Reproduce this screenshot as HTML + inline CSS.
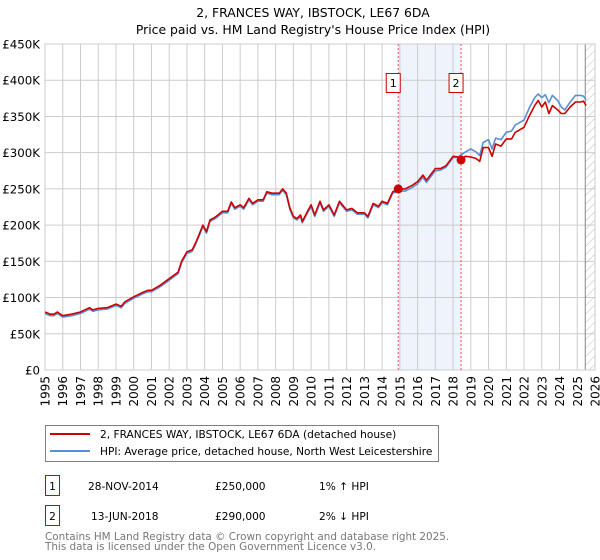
<!DOCTYPE html>
<html><head><meta charset="utf-8"><style>
body{margin:0;background:#fff;font-family:"DejaVu Sans","Liberation Sans",sans-serif;}
#wrap{position:relative;width:600px;height:560px;overflow:hidden;}
svg text{font-family:"DejaVu Sans","Liberation Sans",sans-serif;}
</style></head><body>
<div id="wrap">
<svg id="chart" width="600" height="560">
<text x="313" y="17" text-anchor="middle" font-size="12.4">2, FRANCES WAY, IBSTOCK, LE67 6DA</text>
<text x="313" y="34" text-anchor="middle" font-size="12.4">Price paid vs. HM Land Registry's House Price Index (HPI)</text>
<g id="plot"></g>
<g>
<rect x="45.5" y="425.5" width="393" height="36" fill="#fff" stroke="#808080"/>
<line x1="50" y1="434" x2="90" y2="434" stroke="#cc0000" stroke-width="2"/>
<text x="100" y="438" font-size="10.6">2, FRANCES WAY, IBSTOCK, LE67 6DA (detached house)</text>
<line x1="50" y1="451" x2="90" y2="451" stroke="#5b8fd4" stroke-width="2"/>
<text x="100" y="455" font-size="10.6">HPI: Average price, detached house, North West Leicestershire</text>
</g>
<g>
<rect x="45.5" y="475.5" width="14" height="20" fill="#fff" stroke="#cc0000"/>
<text x="52.5" y="490" text-anchor="middle" font-size="10.6">1</text>
<text x="88" y="490" font-size="10.6">28-NOV-2014</text>
<text x="215" y="490" font-size="10.6">£250,000</text>
<text x="319" y="490" font-size="10.6">1% ↑ HPI</text>
</g>
<g>
<rect x="45.5" y="505.5" width="14" height="20" fill="#fff" stroke="#cc0000"/>
<text x="52.5" y="520" text-anchor="middle" font-size="10.6">2</text>
<text x="91" y="520" font-size="10.6">13-JUN-2018</text>
<text x="215" y="520" font-size="10.6">£290,000</text>
<text x="319" y="520" font-size="10.6">2% ↓ HPI</text>
</g>
<text x="45" y="540" font-size="10.4" fill="#777">Contains HM Land Registry data © Crown copyright and database right 2025.</text>
<text x="45" y="550" font-size="10.4" fill="#777">This data is licensed under the Open Government Licence v3.0.</text>
</svg>
</div>
<script>
const dates=[1995.0,1995.3,1995.5,1995.7,1996.0,1996.5,1997.0,1997.5,1997.7,1998.0,1998.5,1999.0,1999.3,1999.5,2000.0,2000.5,2000.8,2001.0,2001.5,2002.0,2002.5,2002.7,2003.0,2003.3,2003.5,2003.7,2003.9,2004.1,2004.3,2004.6,2005.0,2005.3,2005.5,2005.7,2006.0,2006.2,2006.5,2006.7,2007.0,2007.3,2007.5,2007.8,2008.0,2008.2,2008.4,2008.6,2008.8,2009.0,2009.2,2009.4,2009.5,2009.8,2010.0,2010.2,2010.5,2010.7,2011.0,2011.3,2011.6,2012.0,2012.3,2012.6,2013.0,2013.2,2013.5,2013.8,2014.0,2014.3,2014.6,2014.9,2015.3,2015.7,2016.0,2016.3,2016.5,2017.0,2017.3,2017.6,2018.0,2018.3,2018.45,2018.7,2019.0,2019.3,2019.5,2019.7,2020.0,2020.2,2020.4,2020.7,2021.0,2021.3,2021.5,2022.0,2022.3,2022.6,2022.8,2023.0,2023.2,2023.4,2023.6,2023.9,2024.1,2024.3,2024.6,2024.9,2025.2,2025.35,2025.5];
const propertyValues=[80,77,77,80,75,77,80,86,83,85,86,91,88,94,101,107,110,110,117,126,135,150,163,166,176,188,200,191,207,211,219,219,232,224,228,224,237,230,235,235,246,244,244,244,250,244,224,212,209,214,205,219,228,214,233,221,228,214,233,221,223,217,217,212,230,226,233,230,246,250,250,255,260,269,262,278,278,282,295,294,290,295,294,292,288,307,307,295,312,309,319,319,328,335,351,365,372,363,370,354,365,359,354,354,363,370,370,371,365];
const hpiValues=[78,75,75,78,73,75,78,84,81,83,84,89,86,92,99,105,108,108,115,124,133,148,161,164,174,186,198,189,205,209,217,217,230,222,226,222,235,228,233,233,244,242,242,242,248,242,222,210,207,212,203,217,226,212,231,219,226,212,231,219,221,215,215,210,228,224,231,228,244,247,247,252,257,266,259,275,276,280,293,294,297,301,305,301,296,314,318,305,320,318,328,330,338,345,362,376,381,376,380,369,379,372,363,359,370,379,379,378,373];
const yTicks=[0,50,100,150,200,250,300,350,400,450];
const yTickLabels=["£0","£50K","£100K","£150K","£200K","£250K","£300K","£350K","£400K","£450K"];
const xYears=[1995,1996,1997,1998,1999,2000,2001,2002,2003,2004,2005,2006,2007,2008,2009,2010,2011,2012,2013,2014,2015,2016,2017,2018,2019,2020,2021,2022,2023,2024,2025,2026];
const saleDates=[2014.91,2018.45];
const salePrices=[250,290];
const saleLabels=["1","2"];
const L=45,R=595,T=44,B=370;
const xs=y=>L+(y-1995)*(R-L)/31;
const ys=v=>B-v*(B-T)/450;
const NS="http://www.w3.org/2000/svg";
const g=document.getElementById('plot');
function mk(tag,at){const e=document.createElementNS(NS,tag);for(const k in at)e.setAttribute(k,at[k]);g.appendChild(e);return e;}
let sh=mk('rect',{x:xs(saleDates[0]),y:T,width:xs(saleDates[1])-xs(saleDates[0]),height:B-T,fill:'#eef3fc'});


yTicks.forEach((v,i)=>{
 let l=mk('line',{x1:L,x2:R,y1:ys(v),y2:ys(v),stroke:'#cccccc','stroke-width':1});
 
 
 let t=mk('text',{x:40,y:ys(v)+4.5,'text-anchor':'end','font-size':'11.8'});
 t.textContent=yTickLabels[i];
 
 
});
xYears.forEach(yr=>{
 let l=mk('line',{x1:xs(yr),x2:xs(yr),y1:T,y2:B,stroke:'#cccccc','stroke-width':1});
 
 
 let t=mk('text',{x:0,y:0,'text-anchor':'end','font-size':'12',transform:`translate(${xs(yr)+4.5},376) rotate(-90)`});
 t.textContent=yr;
 
 
});
const defs=mk('defs',{});
const pat=document.createElementNS(NS,'pattern');
pat.setAttribute('id','hatch');pat.setAttribute('width','6');pat.setAttribute('height','6');pat.setAttribute('patternUnits','userSpaceOnUse');pat.setAttribute('patternTransform','rotate(45)');
const pl=document.createElementNS(NS,'line');pl.setAttribute('x1','0');pl.setAttribute('y1','0');pl.setAttribute('x2','0');pl.setAttribute('y2','6');pl.setAttribute('stroke','#bbb');pat.appendChild(pl);defs.appendChild(pat);
let hx=xs(2025.45);
let hr=mk('rect',{x:hx,y:T,width:R-hx,height:B-T,fill:'url(#hatch)'});


let hl=mk('line',{x1:hx,x2:hx,y1:T,y2:B,stroke:'#888','stroke-width':1});


let fr=mk('rect',{x:L,y:T,width:R-L,height:B-T,fill:'none',stroke:'#cccccc'});


saleDates.forEach((d,i)=>{
 let l=mk('line',{x1:xs(d),x2:xs(d),y1:T,y2:B,stroke:'#ee5555','stroke-width':1,'stroke-dasharray':'2,2'});
 
 
 let r=mk('rect',{x:xs(d)-12,y:73.5,width:14,height:19,fill:'#fff',stroke:'#cc0000'});
 
 
 let t=mk('text',{x:xs(d)-5,y:87,'text-anchor':'middle','font-size':'11'});
 t.textContent=saleLabels[i];
 
 
});
function path(vals,color,name){
 let p=mk('path',{d:vals.map((v,i)=>(i?'L':'M')+xs(dates[i]).toFixed(1)+','+ys(v).toFixed(1)).join(''),fill:'none',stroke:color,'stroke-width':1.6,'stroke-linejoin':'round'});
 
 
}
path(hpiValues,'#5b8fd4','hpi-line');
path(propertyValues,'#cc0000','property-line');
saleDates.forEach((d,i)=>{
 let c=mk('circle',{cx:xs(d),cy:ys(salePrices[i]),r:4.5,fill:'#cc0000'});
 
 
});
</script>
</body></html>
